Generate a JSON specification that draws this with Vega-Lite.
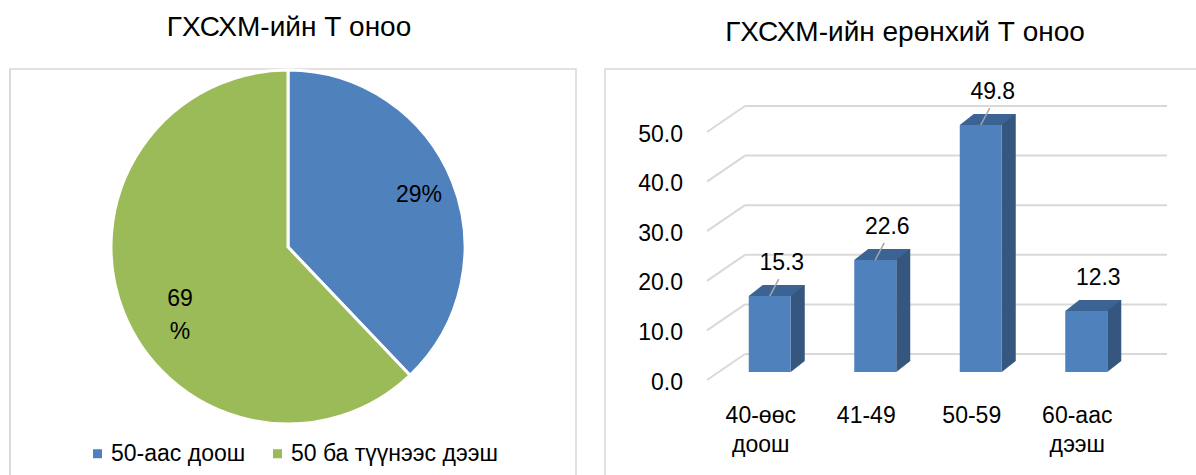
{
  "$schema": "https://vega.github.io/schema/vega-lite/v6.json",
  "padding": {"left": 8, "top": 12, "right": 0, "bottom": 0},
  "background": "white",
  "spacing": 29,
  "bounds": "flush",
  "config": {
    "font": "Liberation Sans",
    "view": {"stroke": "#d9d9d9", "strokeWidth": 1.5},
    "title": {"fontSize": 28, "fontWeight": "normal", "color": "#000000", "font": "Liberation Sans", "offset": 22.5, "anchor": "middle", "frame": "group"},
    "text": {"font": "Liberation Sans", "fontSize": 23, "color": "#000000"}
  },
  "hconcat": [
    {
      "width": 566,
      "height": 409,
      "title": {"text": "ГХСХМ-ийн Т оноо", "dx": -4},
      "data": {"values": [
        {"group": "50-аас доош", "share": 37.9, "label": "29%"},
        {"group": "50 ба түүнээс дээш", "share": 62.1, "label": "69\n%"}
      ]},
      "layer": [
        {
          "data": {"values": [{}]},
          "mark": {"type": "rect", "fill": null, "stroke": "#d9d9d9", "strokeWidth": 1.5},
          "encoding": {
            "x": {"value": 0},
            "x2": {"value": {"expr": "width"}},
            "y": {"value": 0},
            "y2": {"value": {"expr": "height"}}
          }
        },
        {
          "mark": {"type": "arc", "outerRadius": 177, "stroke": "white", "strokeWidth": 3, "xOffset": -5, "yOffset": -26.5},
          "encoding": {
            "theta": {"field": "share", "type": "quantitative", "stack": true},
            "order": {"field": "share", "type": "quantitative", "sort": "ascending"},
            "color": {
              "field": "group", "type": "nominal",
              "scale": {"domain": ["50-аас доош", "50 ба түүнээс дээш"], "range": ["#4f81bd", "#9bbb59"]},
              "legend": {
                "orient": "none", "legendX": 76, "legendY": 373, "direction": "horizontal",
                "title": null, "symbolType": "square", "symbolSize": 81, "symbolStrokeWidth": 0,
                "labelFontSize": 23, "labelFont": "Liberation Sans", "labelColor": "#000000",
                "columnPadding": 20, "labelOffset": 2, "labelLimit": 400, "padding": 0
              }
            }
          }
        },
        {
          "mark": {"type": "text", "radius": 141, "fontSize": 23, "lineBreak": "\n", "lineHeight": 33, "xOffset": -5, "yOffset": -26.5, "color": "#000000",
            "dx": {"expr": "datum.group === '50 ба түүнээс дээш' ? 23 : 0"}},
          "encoding": {
            "theta": {"field": "share", "type": "quantitative", "stack": true},
            "order": {"field": "share", "type": "quantitative", "sort": "ascending"},
            "text": {"field": "label", "type": "nominal"}
          }
        }
      ]
    },
    {
      "width": 593,
      "height": 409,
      "title": {"text": "ГХСХМ-ийн ерөнхий Т оноо", "dx": 3.5},
      "layer": [
        {
          "data": {"name": "grid", "values": [{"g": 0}, {"g": 10}, {"g": 20}, {"g": 30}, {"g": 40}, {"g": 50}]},
          "mark": {"type": "rule", "color": "#d9d9d9", "strokeWidth": 2},
          "encoding": {
            "y": {"field": "g", "type": "quantitative",
              "scale": {"domain": [0, 50], "range": [285, 37], "nice": false}, "axis": null},
            "x": {"datum": "40-өөс доош", "type": "nominal", "bandPosition": 0,
              "scale": {"domain": ["40-өөс доош", "41-49", "50-59", "60-аас дээш"], "range": [140, 562], "paddingInner": 0, "paddingOuter": 0},
              "axis": null},
            "x2": {"datum": "60-аас дээш", "bandPosition": 1}
          }
        },
        {
          "data": {"name": "grid"},
          "mark": {"type": "rule", "color": "#d9d9d9", "strokeWidth": 2, "xOffset": -38, "yOffset": 26},
          "encoding": {
            "y": {"field": "g", "type": "quantitative", "axis": null},
            "y2": {"field": "g"},
            "x": {"datum": "40-өөс доош", "type": "nominal", "bandPosition": 0, "axis": null},
            "x2": {"datum": "40-өөс доош", "bandPosition": 0}
          }
        },
        {
          "data": {"name": "grid"},
          "mark": {"type": "text", "fontSize": 23, "align": "right", "baseline": "middle", "xOffset": -62, "yOffset": 28.5, "color": "#000000"},
          "encoding": {
            "y": {"field": "g", "type": "quantitative", "axis": null},
            "x": {"datum": "40-өөс доош", "type": "nominal", "bandPosition": 0, "axis": null},
            "text": {"field": "g", "type": "quantitative", "format": ".1f"}
          }
        },
        {
          "data": {"name": "bars1", "values": [
            {"cat": "40-өөс доош", "v": 15.3},
            {"cat": "41-49", "v": 22.6},
            {"cat": "50-59", "v": 49.8},
            {"cat": "60-аас дээш", "v": 12.3}
          ]},
          "mark": {"type": "bar", "color": "#34567f", "width": 14, "xOffset": 0, "yOffset": 7, "y2Offset": 18},
          "encoding": {
            "x": {"field": "cat", "type": "nominal", "sort": null, "axis": null},
            "y": {"field": "v", "type": "quantitative", "axis": null},
            "y2": {"datum": 0}
          }
        },
        {
          "data": {"name": "bars1"},
          "mark": {"type": "point", "shape": "M-1,0.786L1,-0.786L1.1,-0.786L1.1,0.95L-1,0.95Z", "size": 196, "filled": true, "color": "white", "opacity": 1, "strokeWidth": 0, "xOffset": 0, "yOffset": 12.5},
          "encoding": {
            "x": {"field": "cat", "type": "nominal", "sort": null, "axis": null},
            "y": {"datum": 0, "type": "quantitative", "axis": null}
          }
        },
        {
          "data": {"name": "bars1"},
          "mark": {"type": "point", "shape": "M-1,0.196L0.5,0.196L1,-0.196L-0.5,-0.196Z", "size": 3136, "filled": true, "color": "#3b6394", "opacity": 1, "strokeWidth": 0, "xOffset": -21, "yOffset": 12.5},
          "encoding": {
            "x": {"field": "cat", "type": "nominal", "sort": null, "axis": null},
            "y": {"field": "v", "type": "quantitative", "axis": null}
          }
        },
        {
          "data": {"name": "bars1"},
          "mark": {"type": "bar", "color": "#4f81bd", "width": 42, "xOffset": -28, "yOffset": 18, "y2Offset": 18},
          "encoding": {
            "x": {"field": "cat", "type": "nominal", "sort": null, "axis": null},
            "y": {"field": "v", "type": "quantitative", "axis": null},
            "y2": {"datum": 0}
          }
        },
        {
          "data": {"name": "bars1"},
          "transform": [{"filter": {"field": "cat", "oneOf": ["40-өөс доош", "41-49", "50-59"]}}],
          "mark": {"type": "rule", "color": "#a6a6a6", "strokeWidth": 1.5, "xOffset": -28, "x2Offset": -19, "yOffset": 18, "y2Offset": 1},
          "encoding": {
            "x": {"field": "cat", "type": "nominal", "sort": null, "axis": null},
            "x2": {"field": "cat"},
            "y": {"field": "v", "type": "quantitative", "axis": null},
            "y2": {"field": "v"}
          }
        },
        {
          "data": {"name": "bars1"},
          "mark": {"type": "text", "fontSize": 23, "xOffset": -16, "yOffset": -15, "baseline": "middle", "align": "center", "color": "#000000"},
          "encoding": {
            "x": {"field": "cat", "type": "nominal", "sort": null, "axis": null},
            "y": {"field": "v", "type": "quantitative", "axis": null},
            "text": {"field": "v", "type": "quantitative", "format": ".1f"}
          }
        },
        {
          "data": {"name": "bars1"},
          "mark": {"type": "text", "fontSize": 23, "xOffset": -37, "yOffset": 62, "baseline": "middle", "align": "center", "lineBreak": " ", "lineHeight": 29, "color": "#000000"},
          "encoding": {
            "x": {"field": "cat", "type": "nominal", "sort": null, "axis": null},
            "y": {"datum": 0, "type": "quantitative", "axis": null},
            "text": {"field": "cat", "type": "nominal"}
          }
        }
      ]
    }
  ]
}
